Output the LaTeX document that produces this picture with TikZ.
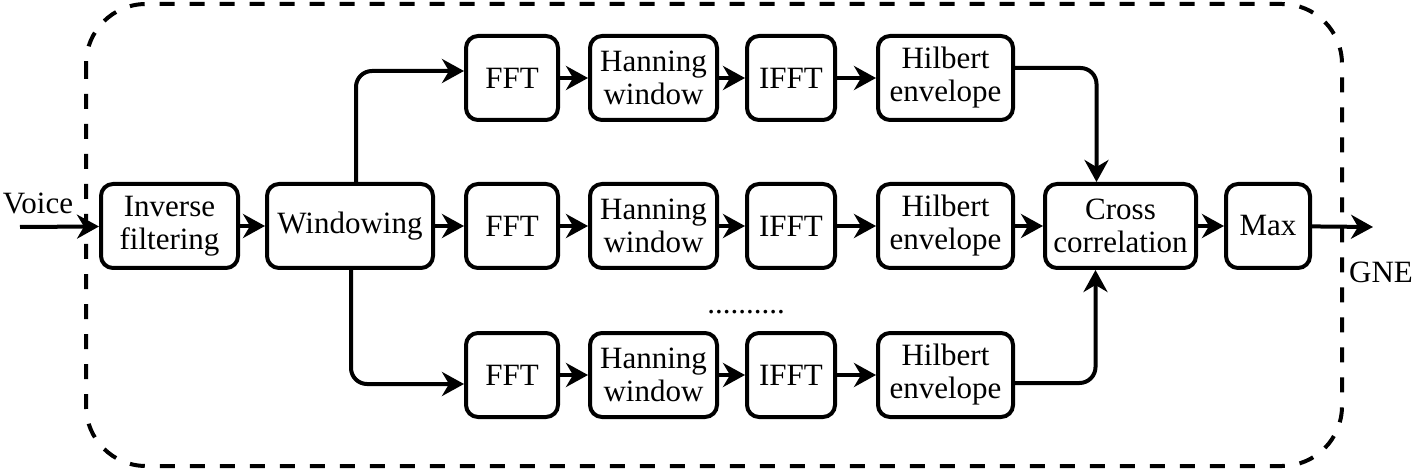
\documentclass[tikz,border=0pt]{standalone}
\usepackage{fontspec}
\setmainfont{Liberation Serif}
\usetikzlibrary{arrows.meta}
\begin{document}
\begin{tikzpicture}[x=0.5pt,y=-0.5pt,
  blk/.style={draw, line width=2pt, rounded corners=6pt, inner sep=0pt,
    minimum height=42pt, align=center, font=\fontsize{15.5}{16.5}\selectfont},
  lbl/.style={inner sep=0pt, font=\fontsize{15.5}{16.5}\selectfont},
  arr/.style={line width=2pt, -{Stealth[length=11pt,width=12pt,inset=3.5pt]}},
  elbow/.style={arr, rounded corners=8pt}]
\useasboundingbox (0,0) rectangle (1418,470);
\draw[line width=2pt, dash pattern=on 7.5pt off 7.5pt, rounded corners=30pt]
  (86,4) rectangle (1342,466);

\node[blk, minimum width=68.5pt] (inv) at (169.5,226) {Inverse\\filtering};
\node[blk, minimum width=83pt] (win) at (350,226) {Windowing};
\foreach \r/\yy in {1/78,2/226,3/375}{
  \node[blk, minimum width=46pt] (fft\r) at (512,\yy) {FFT};
  \node[blk, minimum width=63.5pt] (han\r) at (653.5,\yy) {Hanning\\window};
  \node[blk, minimum width=44pt] (ifft\r) at (791,\yy) {IFFT};
  \node[blk, minimum width=67.5pt] (hil\r) at (945.5,\yy) {Hilbert\\envelope};
  \draw[arr] (fft\r) -- (han\r);
  \draw[arr] (han\r) -- (ifft\r);
  \draw[arr] (ifft\r) -- (hil\r);
}
\node[blk, minimum width=75.5pt] (cross) at (1120.5,226) {Cross\\correlation};
\node[blk, minimum width=42pt] (max) at (1268,226) {Max};

\coordinate (in) at (20,227);
\coordinate (out) at (1373,227);
\node[lbl] (voice) at (38,203) {Voice};
\node[lbl] (gne) at (1381,272) {GNE};
\node[lbl, anchor=base] (dots) at (746,314) {..........};

\draw[arr] (in) -- (inv);
\draw[arr] (inv) -- (win);
\draw[arr] (win) -- (fft2);
\draw[elbow] ([xshift=3pt]win.north) |- ([yshift=3.5pt]fft1.west);
\draw[elbow] ([xshift=0.5pt]win.south) |- ([yshift=-4.5pt]fft3.west);
\draw[arr] (hil2) -- (cross);
\draw[elbow] ([yshift=5pt]hil1.east) -| ([xshift=-12pt]cross.north);
\draw[elbow] ([yshift=-4pt]hil3.east) -| ([xshift=-12.5pt]cross.south);
\draw[arr] (cross) -- (max);
\draw[arr] (max) -- (out);
\end{tikzpicture}
\end{document}
